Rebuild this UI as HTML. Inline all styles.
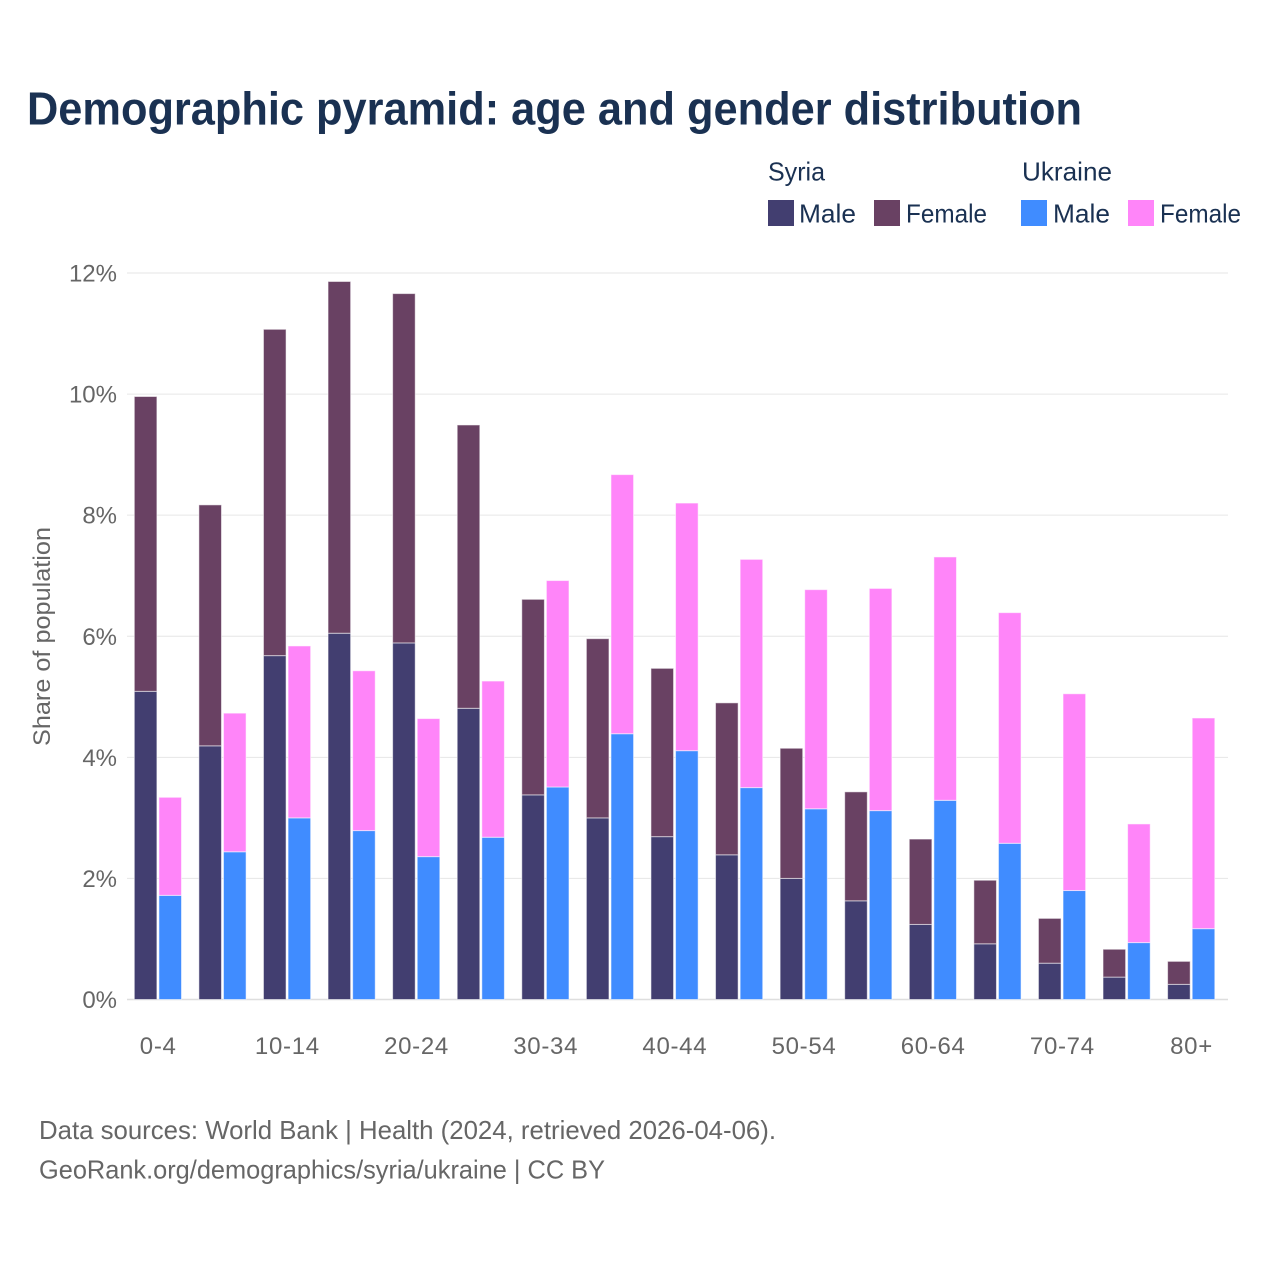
<!DOCTYPE html>
<html lang="en">
<head>
<meta charset="utf-8">
<title>Demographic pyramid</title>
<style>
html,body{margin:0;padding:0;background:#fff;}
svg{display:block;font-family:"Liberation Sans",sans-serif;}
</style>
</head>
<body>
<svg id="chart" width="1280" height="1280" viewBox="0 0 1280 1280" xmlns="http://www.w3.org/2000/svg">
<rect x="0" y="0" width="1280" height="1280" fill="#ffffff"/>
<text x="27" y="124.5" font-size="46" font-weight="700" fill="#1a3152" textLength="1055" lengthAdjust="spacingAndGlyphs">Demographic pyramid: age and gender distribution</text>
<g font-size="26" fill="#1a3152">
<text x="768" y="180.5" textLength="57" lengthAdjust="spacingAndGlyphs">Syria</text>
<text x="1022" y="180.5" textLength="90" lengthAdjust="spacingAndGlyphs">Ukraine</text>
<rect x="768" y="200" width="26" height="26" fill="#423e70"/>
<text x="799" y="222.5" textLength="57" lengthAdjust="spacingAndGlyphs">Male</text>
<rect x="874" y="200" width="26" height="26" fill="#694163"/>
<text x="906" y="222.5" textLength="81" lengthAdjust="spacingAndGlyphs">Female</text>
<rect x="1021" y="200" width="26" height="26" fill="#408cff"/>
<text x="1053" y="222.5" textLength="57" lengthAdjust="spacingAndGlyphs">Male</text>
<rect x="1128" y="200" width="26" height="26" fill="#ff85f9"/>
<text x="1160" y="222.5" textLength="81" lengthAdjust="spacingAndGlyphs">Female</text>
</g>
<g id="grid"></g>
<g id="bars"></g>
<g id="y-ticks"></g>
<g id="x-ticks"></g>
<text transform="translate(50,746) rotate(-90)" font-size="24" fill="#666666" textLength="219" lengthAdjust="spacingAndGlyphs">Share of population</text>
<text x="39" y="1139" font-size="26" fill="#666666" textLength="737" lengthAdjust="spacingAndGlyphs">Data sources: World Bank | Health (2024, retrieved 2026-04-06).</text>
<text x="39" y="1178.5" font-size="26" fill="#666666" textLength="566" lengthAdjust="spacingAndGlyphs">GeoRank.org/demographics/syria/ukraine | CC BY</text>
</svg>
<script>
const categories = ['0-4','5-9','10-14','15-19','20-24','25-29','30-34','35-39','40-44','45-49','50-54','55-59','60-64','65-69','70-74','75-79','80+'];
const syriaMale = [5.09,4.19,5.68,6.05,5.89,4.81,3.38,3.00,2.69,2.39,2.00,1.63,1.24,0.92,0.60,0.37,0.25];
const syriaFemale = [4.87,3.98,5.39,5.81,5.77,4.68,3.23,2.96,2.78,2.51,2.15,1.80,1.41,1.05,0.74,0.46,0.38];
const ukraineMale = [1.72,2.44,3.00,2.79,2.36,2.68,3.51,4.39,4.11,3.50,3.15,3.12,3.29,2.58,1.80,0.94,1.17];
const ukraineFemale = [1.62,2.29,2.84,2.64,2.28,2.58,3.41,4.28,4.09,3.77,3.62,3.67,4.02,3.81,3.25,1.96,3.48];
const yTicks = [0,2,4,6,8,10,12];
const yTickLabels = ['0%','2%','4%','6%','8%','10%','12%'];
const xLabelEvery = 2;

const SVGNS = 'http://www.w3.org/2000/svg';
const plot = {left:127, right:1228, bottom:999.5, top:273, yMax:12, firstCenter:157.9, lastCenter:1191.2};
function yScale(v){ return plot.bottom - (v / plot.yMax) * (plot.bottom - plot.top); }
function xCenter(i){ return plot.firstCenter + i * (plot.lastCenter - plot.firstCenter) / (categories.length - 1); }
const barWidth = 22.6;
const barOffset = 12.3;

function drawSegment(parent, cx, v0, v1, fill, name){
  const r = document.createElementNS(SVGNS, 'rect');
  r.setAttribute('x', cx - barWidth / 2);
  r.setAttribute('y', yScale(v1));
  r.setAttribute('width', barWidth);
  r.setAttribute('height', yScale(v0) - yScale(v1));
  r.setAttribute('fill', fill);
  r.setAttribute('stroke', 'rgba(255,255,255,0.55)');
  r.setAttribute('stroke-width', '1');
  
  
  parent.appendChild(r);
}

const gridG = document.getElementById('grid');
const yG = document.getElementById('y-ticks');
yTicks.forEach(function(t, i){
  const l = document.createElementNS(SVGNS, 'line');
  l.setAttribute('x1', plot.left);
  l.setAttribute('x2', plot.right);
  l.setAttribute('y1', yScale(t));
  l.setAttribute('y2', yScale(t));
  l.setAttribute('stroke', t === 0 ? '#dedede' : '#e6e6e6');
  l.setAttribute('stroke-width', t === 0 ? '1.5' : '1');
  
  
  gridG.appendChild(l);
  const tx = document.createElementNS(SVGNS, 'text');
  tx.setAttribute('x', 117);
  tx.setAttribute('y', yScale(t) + 8.5);
  tx.setAttribute('text-anchor', 'end');
  tx.setAttribute('font-size', '24');
  tx.setAttribute('fill', '#666666');
  
  
  tx.textContent = yTickLabels[i];
  yG.appendChild(tx);
});

const barsG = document.getElementById('bars');
const xG = document.getElementById('x-ticks');
categories.forEach(function(c, i){
  const cx = xCenter(i);
  drawSegment(barsG, cx - barOffset, 0, syriaMale[i], '#423e70', 'bar-syria-male-' + c);
  drawSegment(barsG, cx - barOffset, syriaMale[i], syriaMale[i] + syriaFemale[i], '#694163', 'bar-syria-female-' + c);
  drawSegment(barsG, cx + barOffset, 0, ukraineMale[i], '#408cff', 'bar-ukraine-male-' + c);
  drawSegment(barsG, cx + barOffset, ukraineMale[i], ukraineMale[i] + ukraineFemale[i], '#ff85f9', 'bar-ukraine-female-' + c);
  if (i % xLabelEvery === 0) {
    const tx = document.createElementNS(SVGNS, 'text');
    tx.setAttribute('x', cx + 0.3);
    tx.setAttribute('y', 1054);
    tx.setAttribute('text-anchor', 'middle');
    tx.setAttribute('font-size', '24');
    tx.setAttribute('letter-spacing', '0.7');
    tx.setAttribute('fill', '#666666');
    
    
    tx.textContent = c;
    xG.appendChild(tx);
  }
});
</script>
</body>
</html>
